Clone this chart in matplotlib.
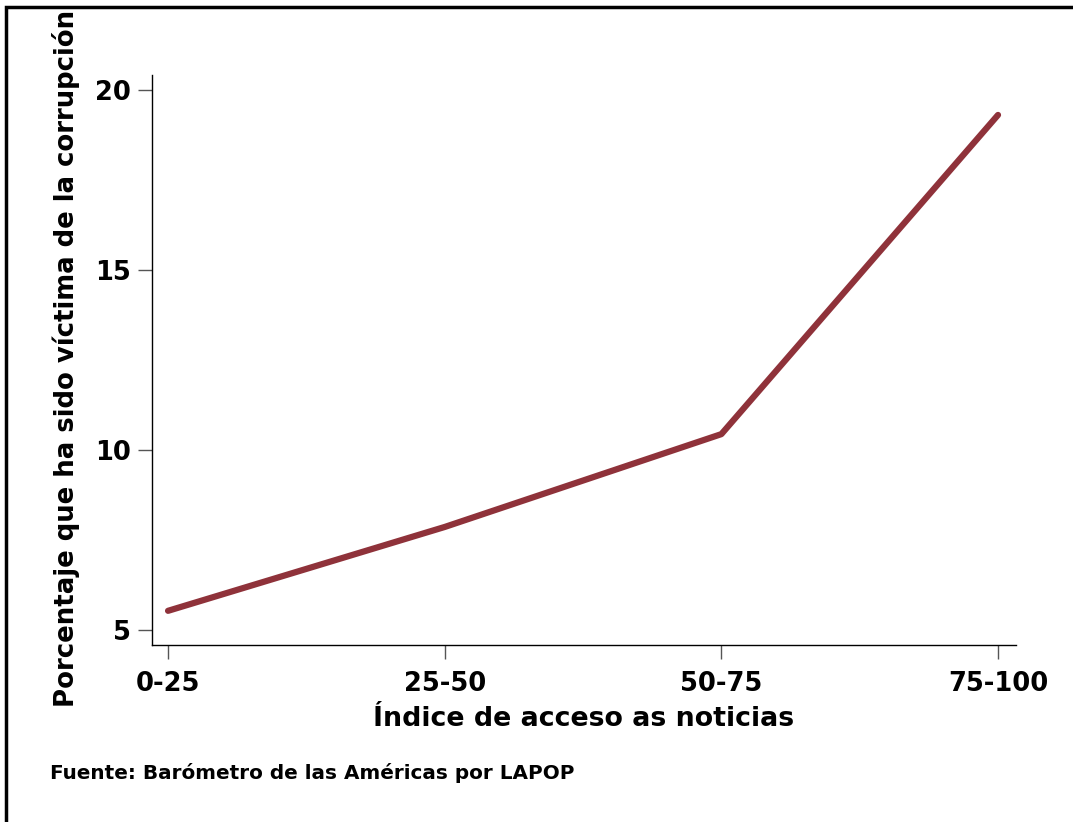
import matplotlib.pyplot as plt
from matplotlib.patches import Rectangle

categories = ['0-25', '25-50', '50-75', '75-100']
victims    = [5.53, 7.86, 10.44, 19.31]
yticks     = [5, 10, 15, 20]

plt.rcParams['font.family'] = ['DejaVu Sans']
plt.rcParams['font.weight'] = 'bold'

W, H = 1073, 822
fig = plt.figure(figsize=(W / 100, H / 100), dpi=100)
ax = fig.add_axes([152 / W, 1 - 645 / H, (1016 - 152) / W, (645 - 75) / H])

x = list(range(len(categories)))
ax.plot(x, victims, color='#8f323a', lw=4.5, solid_capstyle='round')

ax.set_xlim(-0.058, 3.065)
ax.set_ylim(4.58, 20.42)
ax.set_xticks(x)
ax.set_xticklabels(categories)
ax.set_yticks(yticks)
ax.tick_params(axis='both', labelsize=18.5, length=10, width=1, color='#555555')
ax.tick_params(axis='x', pad=9)
ax.tick_params(axis='y', pad=5)
for lab in ax.get_xticklabels() + ax.get_yticklabels():
    lab.set_fontweight('bold')

ax.spines['top'].set_visible(False)
ax.spines['right'].set_visible(False)
ax.spines['left'].set_linewidth(1)
ax.spines['bottom'].set_linewidth(1)

ax.set_xlabel('Índice de acceso as noticias', fontsize=19.3, fontweight='bold', labelpad=6)
fig.text(66 / W, 1 - 358 / H, 'Porcentaje que ha sido víctima de la corrupción',
         rotation=90, fontsize=18.7, fontweight='bold', ha='center', va='center')

fig.text(50 / W, 1 - 773 / H, 'Fuente: Barómetro de las Américas por LAPOP',
         fontsize=14.4, fontweight='bold', ha='left', va='center')

fig.patches.append(Rectangle((6 / W, -0.1), 1.2, 1 - 7 / H + 0.1, transform=fig.transFigure,
                             fill=False, edgecolor='black', lw=2.5))

fig.savefig('out.png', dpi=100, facecolor='white')
